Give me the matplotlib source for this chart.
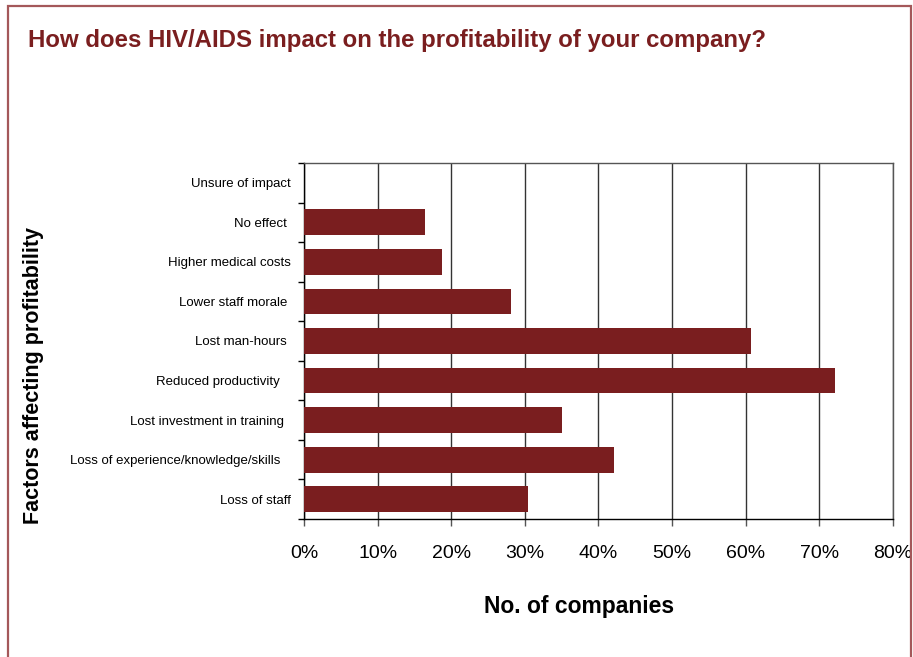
import numpy as np
import matplotlib
matplotlib.use("Agg")
import matplotlib.pyplot as plt
from matplotlib.patches import Rectangle
from matplotlib.ticker import MultipleLocator, FuncFormatter

plt.rcParams['font.family'] = ['Liberation Sans', 'DejaVu Sans']

# survey answers, top to bottom
factors = ["Unsure of impact", "No effect ", "Higher medical costs", "Lower staff morale ",
           "Lost man-hours ", "Reduced productivity   ", "Lost investment in training  ",
           "Loss of experience/knowledge/skills   ", "Loss of staff"]
share = [0.0, 16.4, 18.7, 28.1, 60.7, 72.1, 35.0, 42.1, 30.4]

dark_red = "#7a1e1f"

fig = plt.figure(figsize=(9.13, 6.57), dpi=100)
ax = fig.add_axes([0.333, 0.21, 0.645, 0.542])

# page frame
fig.patches.append(Rectangle((8/913, -0.05), (903)/913, 1 - 6/657 + 0.05,
                             transform=fig.transFigure, fill=False,
                             edgecolor="#a4585a", linewidth=1.6))

fig.text(28/913, 1 - 47/657, "How does HIV/AIDS impact on the profitability of your company?",
         color=dark_red, fontsize=17.3, fontweight="bold", va="baseline", ha="left")

pos = np.arange(len(factors))
ax.barh(pos, share, height=0.65, color=dark_red, zorder=3)
ax.set_ylim(len(factors) - 0.5, -0.5)
ax.set_xlim(0, 80)

ax.set_yticks(pos)
ax.set_yticklabels(factors, fontsize=9.5)
ax.set_yticks(np.arange(len(factors) + 1) - 0.5, minor=True)
ax.tick_params(axis="y", which="major", length=0, pad=9.5)
ax.tick_params(axis="y", which="minor", length=4, width=1, color="black", direction="out")

ax.xaxis.set_major_locator(MultipleLocator(10))
ax.xaxis.set_major_formatter(FuncFormatter(lambda v, p: f"{v:.0f}%"))
ax.tick_params(axis="x", length=5, width=1, color="#555555", labelsize=14, pad=13.5)

ax.grid(axis="x", color="#333333", linewidth=1, zorder=1)
for side in ["top", "right"]:
    ax.spines[side].set_color("#555555")
for side in ["left", "bottom"]:
    ax.spines[side].set_color("black")
for s in ax.spines.values():
    s.set_linewidth(1)

ax.set_xlabel("No. of companies", fontsize=16.5, fontweight="bold")
ax.xaxis.set_label_coords(0.467, -0.212)
ax.set_ylabel("Factors affecting profitability", fontsize=15.5, fontweight="bold")
ax.yaxis.set_label_coords(-0.441, 0.404)

fig.savefig("out.png", dpi=100)
